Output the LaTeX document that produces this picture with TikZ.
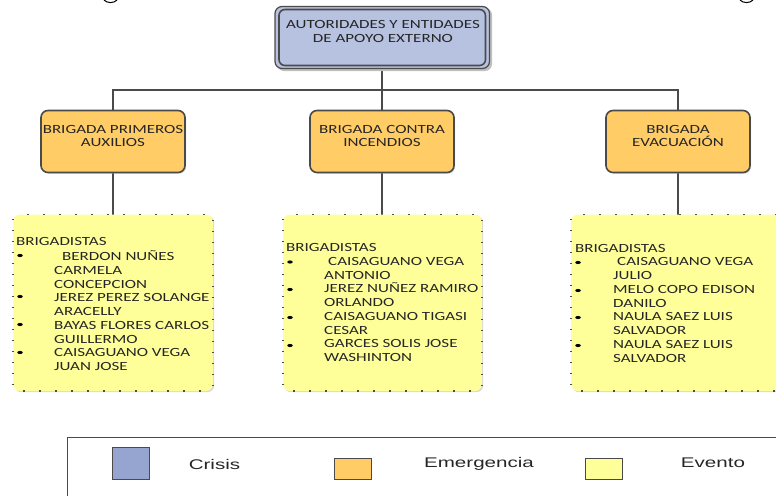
\documentclass[tikz,border=0pt]{standalone}
\usepackage{fontspec}
\setmainfont{Carlito}
\newfontfamily\boxfont[FakeStretch=1.36]{Carlito}
\newfontfamily\legendfont[FakeStretch=1.47]{Liberation Sans}
\usetikzlibrary{calc,shadows,shapes.geometric}
\definecolor{crisisfill}{HTML}{B7C1E0}
\definecolor{crisislegend}{HTML}{95A5D0}
\definecolor{emerfill}{HTML}{FFCC66}
\definecolor{evfill}{HTML}{FFFF99}
\definecolor{edge}{HTML}{4A4A4A}
\tikzset{
  x=1pt,y=-1pt,
  conn/.style={draw=edge,line width=1.5pt},
  orgshadow/.style={drop shadow={shadow xshift=1.2pt,shadow yshift=-1.2pt,fill=black!25,opacity=.6}},
  brig/.style={rounded corners=7pt,fill=emerfill,draw=edge,line width=1.6pt,orgshadow},
  evbox/.style={rounded corners=7pt,fill=evfill,orgshadow},
  hdots/.style={draw=black!70,line width=1.4pt,dash pattern=on 2pt off 14pt},
  vdots/.style={draw=black!70,line width=1.5pt,dash pattern=on 1.4pt off 9.6pt},
  boxtext/.style={font=\boxfont\fontsize{12.5}{13}\selectfont,align=center,text=black!85,inner sep=0pt},
  listtext/.style={font=\boxfont\fontsize{12.5}{13.75}\selectfont,align=left,anchor=north west,text=black!85,inner sep=0pt},
  bullet/.style={ellipse,fill=black,inner sep=0pt,minimum width=5.5pt,minimum height=3.2pt},
  legbox/.style={draw=edge,line width=.8pt},
  legtext/.style={font=\legendfont\fontsize{14}{16}\selectfont,text=black!85,inner sep=0pt},
}
\begin{document}
\begin{tikzpicture}
\useasboundingbox (0,0) rectangle (776,496);
% fragments of cropped text at the top edge
\draw[black,line width=1pt] (104,0) .. controls (107,3.4) and (114,3.4) .. (117,0);
\draw[black,line width=1pt] (740,0) .. controls (743,3.4) and (750,3.4) .. (753,0);

\coordinate (topb) at (382,68.5);
\coordinate (bus) at (382,90);
\coordinate (b1t) at (113,110.5);
\coordinate (b2t) at (382,110.5);
\coordinate (b3t) at (678,110.5);
\coordinate (b1b) at (113,172.5);
\coordinate (b2b) at (382,172.5);
\coordinate (b3b) at (678,172.5);
\coordinate (e1t) at (113,214.5);
\coordinate (e2t) at (382,214.5);
\coordinate (e3t) at (678,214.5);

\draw[conn] (topb) -- (b2t);
\draw[draw=edge,line width=1.1pt] (b1t) |- (bus) -| (b3t);
\draw[conn] (b1b) -- (e1t);
\draw[conn] (b2b) -- (e2t);
\draw[conn] (b3b) -- (e3t);

% top box
\fill[black!25,rounded corners=7pt] (277,8) rectangle (492,71);
\draw[draw=edge,line width=1.2pt,fill=crisisfill,rounded corners=7pt] (275,6.5) rectangle (489.5,68.5);
\draw[draw=edge,line width=1.6pt,rounded corners=6pt] (279,9.5) rectangle (485.5,65.5);
\node[boxtext,font=\boxfont\fontsize{12.5}{14}\selectfont] (top) at (383,31) {AUTORIDADES Y ENTIDADES\\DE APOYO EXTERNO};

\path[brig] (41,110.5) rectangle (185,172.5);
\path[brig] (310,110.5) rectangle (454,172.5);
\path[brig] (606,110.5) rectangle (750,172.5);
\node[boxtext] (t1) at (113,136) {BRIGADA PRIMEROS\\AUXILIOS};
\node[boxtext] (t2) at (382,136) {BRIGADA CONTRA\\INCENDIOS};
\node[boxtext] (t3) at (678,136) {BRIGADA\\EVACUACIÓN};

% yellow boxes
\path[evbox] (13,214.5) rectangle (213,391);
\draw[hdots] (27,214.5) -- (205,214.5);
\draw[hdots] (23,391) -- (205,391);
\draw[vdots] (13,219) -- (13,386);
\draw[vdots] (213,220) -- (213,386);
\path[evbox] (283,214.5) rectangle (482,391);
\draw[hdots] (296,214.5) -- (475,214.5);
\draw[hdots] (293,391) -- (475,391);
\draw[vdots] (283,219) -- (283,386);
\draw[vdots] (482,220) -- (482,386);
\path[evbox] (571,214.5) rectangle (790,391);
\draw[hdots] (583,214.5) -- (776,214.5);
\draw[hdots] (581,391) -- (776,391);
\draw[vdots] (571,219) -- (571,386);

\node[listtext] (l1h) at (16,237) {BRIGADISTAS};
\node[listtext] (l1) at (54,250.5) {\hspace*{8pt}BERDON NUÑES\\CARMELA\\CONCEPCION\\JEREZ PEREZ SOLANGE\\ARACELLY\\BAYAS FLORES CARLOS\\GUILLERMO\\CAISAGUANO VEGA\\JUAN JOSE};
\foreach \y/\n in {255.5/a,296.5/b,324.5/c,352.5/d} \node[bullet] (l1\n) at (20,\y) {};

\node[listtext] (l2h) at (286,243) {BRIGADISTAS};
\node[listtext] (l2) at (324,257) {\hspace*{4pt}CAISAGUANO VEGA\\ANTONIO\\JEREZ NUÑEZ RAMIRO\\ORLANDO\\CAISAGUANO TIGASI\\CESAR\\GARCES SOLIS JOSE\\WASHINTON};
\foreach \y/\n in {262/a,289.5/b,317.5/c,345.5/d} \node[bullet] (l2\n) at (290,\y) {};

\node[listtext] (l3h) at (575,244) {BRIGADISTAS};
\node[listtext] (l3) at (613,257.5) {\hspace*{4pt}CAISAGUANO VEGA\\JULIO\\MELO COPO EDISON\\DANILO\\NAULA SAEZ LUIS\\SALVADOR\\NAULA SAEZ LUIS\\SALVADOR};
\foreach \y/\n in {262.5/a,290.5/b,317.5/c,345.5/d} \node[bullet] (l3\n) at (578,\y) {};

% legend
\draw[draw=edge,line width=.9pt] (67,496) -- (67,437) -- (776,437);
\path[legbox,fill=crisislegend] (112,447.5) rectangle (149,479);
\node[legtext] (lg1) at (214.5,464) {Crisis};
\path[legbox,fill=emerfill] (334,458.5) rectangle (371,479);
\node[legtext] (lg2) at (479,464) {Emergencia};
\path[legbox,fill=evfill] (585,458.5) rectangle (622,479);
\node[legtext] (lg3) at (713,463) {Evento};
\end{tikzpicture}
\end{document}
